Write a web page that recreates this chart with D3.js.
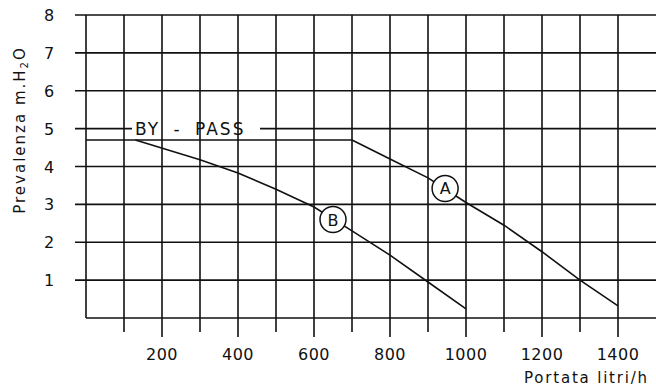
<!DOCTYPE html>
<meta charset="utf-8">
<head>
  <script src="https://d3js.org/d3.v7.min.js"></script>
</head>
<style>
  body { margin: 0; background: #fff; }
  text { font-family: "DejaVu Sans", sans-serif; fill: #111; }
  .grid line { stroke: #111; stroke-width: 1.6; }
  .curve { fill: none; stroke: #111; stroke-width: 1.6; }
</style>
<body>
<script>
  // dati (portata l/h, prevalenza m H2O)
  var xTicks = [200, 400, 600, 800, 1000, 1200, 1400];
  var yTicks = [1, 2, 3, 4, 5, 6, 7, 8];
  var bypass = [[0, 4.7], [700, 4.7]];
  var curveA = [[700, 4.7], [800, 4.2], [900, 3.7], [1000, 3.05], [1100, 2.45], [1200, 1.75], [1300, 1.0], [1400, 0.32]];
  var curveB = [[130, 4.7], [300, 4.18], [400, 3.83], [500, 3.4], [600, 2.93], [700, 2.3], [800, 1.66], [900, 0.95], [1000, 0.24]];
  var markers = [{ name: "A", x: 945, y: 3.42 }, { name: "B", x: 650, y: 2.6 }];

  var W = 656, H = 388;
  var svg = d3.select("body").append("svg")
    .attr("width", W)
    .attr("height", H);

  var x = d3.scaleLinear().domain([0, 1500]).range([86, 656]);
  var y = d3.scaleLinear().domain([0, 8]).range([318, 15]);

  // griglia orizzontale
  var hg = svg.append("g").attr("class", "grid");
  hg.selectAll("line").data(yTicks).enter().append("line")
    .attr("x1", 75).attr("x2", W)
    .attr("y1", d => y(d)).attr("y2", d => y(d));
  // asse x (base)
  hg.append("line").attr("x1", x(0)).attr("x2", W).attr("y1", y(0)).attr("y2", y(0));

  // sfondo per l'etichetta BY - PASS
  svg.append("rect")
    .attr("x", 132).attr("y", y(5) - 3)
    .attr("width", 128).attr("height", 6)
    .attr("fill", "#fff");

  // griglia verticale
  var vg = svg.append("g").attr("class", "grid");
  vg.selectAll("line").data(d3.range(0, 1500, 100)).enter().append("line")
    .attr("x1", d => x(d)).attr("x2", d => x(d))
    .attr("y1", y(8))
    .attr("y2", d => d === 0 ? y(0) : (d % 200 === 0 ? y(0) + 19 : y(0) + 14));

  // etichette asse y
  svg.append("g").selectAll("text").data(yTicks).enter().append("text")
    .attr("x", 49).attr("y", d => y(d) + 6)
    .attr("text-anchor", "middle")
    .attr("font-size", 16)
    .text(d => d);

  // etichette asse x
  svg.append("g").selectAll("text").data(xTicks).enter().append("text")
    .attr("x", d => x(d)).attr("y", 360)
    .attr("text-anchor", "middle")
    .attr("font-size", 16)
    .attr("letter-spacing", 0.5)
    .text(d => d);

  // titoli
  svg.append("text")
    .attr("transform", "translate(25," + 130 + ") rotate(-90)")
    .attr("text-anchor", "middle")
    .attr("font-size", 15)
    .attr("letter-spacing", 2)
    .html('Prevalenza m.H<tspan font-size="10" dy="3">2</tspan><tspan dy="-3">O</tspan>');

  svg.append("text")
    .attr("x", 524).attr("y", 383)
    .attr("font-size", 15)
    .attr("letter-spacing", 1.8)
    .text("Portata litri/h");

  svg.append("text")
    .attr("x", 135).attr("y", y(5) + 6)
    .attr("font-size", 17)
    .attr("letter-spacing", 2)
    .attr("word-spacing", 6)
    .text("BY - PASS");

  // curve
  var line = d3.line().x(d => x(d[0])).y(d => y(d[1]));
  svg.append("path").datum(bypass).attr("class", "curve").attr("d", line);
  svg.append("path").datum(curveA).attr("class", "curve").attr("d", line);
  svg.append("path").datum(curveB).attr("class", "curve").attr("d", line);

  // cerchi A / B
  var mk = svg.append("g").selectAll("g").data(markers).enter().append("g")
    .attr("transform", d => "translate(" + x(d.x) + "," + y(d.y) + ")");
  mk.append("circle").attr("r", 13).attr("fill", "#fff").attr("stroke", "#111").attr("stroke-width", 1.5);
  mk.append("text").attr("text-anchor", "middle").attr("y", 6)
    .attr("font-size", 16).text(d => d.name);
</script>
</body>
